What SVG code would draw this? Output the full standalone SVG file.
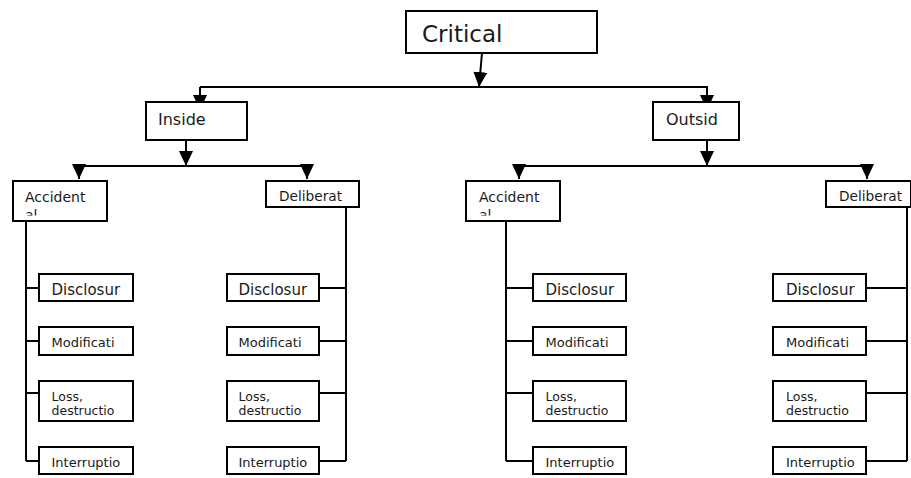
<svg xmlns="http://www.w3.org/2000/svg" width="911" height="478" viewBox="0 0 911 478">
  <style>
    .box { fill: #fff; stroke: #000; stroke-width: 2; }
    .ln { fill: none; stroke: #000; stroke-width: 2; }
    .arr { marker-end: url(#head); }
    text { font-family: "DejaVu Sans", Verdana, sans-serif; fill: #1a1a1a; }
  </style>
  <defs>
    <marker id="head" viewBox="0 0 15 14" refX="15" refY="7" markerWidth="15" markerHeight="14" markerUnits="userSpaceOnUse" orient="auto">
      <path d="M0,0 L15,7 L0,14 z" fill="#000"/>
    </marker>
    <clipPath id="clipAccL"><rect x="13" y="181" width="94" height="34.5"/></clipPath>
    <clipPath id="clipAccR"><rect x="466" y="181" width="94" height="34.5"/></clipPath>
    <clipPath id="clipLoss"><rect x="0" y="381" width="911" height="34.5"/></clipPath>
  </defs>

  <!-- connectors -->
  <g id="connectors">
    <line class="ln arr" x1="482" y1="53" x2="479" y2="87"/>
    <line class="ln" x1="200" y1="87" x2="708" y2="87"/>
    <line class="ln arr" x1="200" y1="87" x2="200" y2="110"/>
    <line class="ln arr" x1="707" y1="87" x2="707" y2="110"/>

    <line class="ln arr" x1="186" y1="140" x2="186" y2="166"/>
    <line class="ln" x1="78" y1="166" x2="307" y2="166"/>
    <line class="ln arr" x1="79" y1="166" x2="79" y2="179"/>
    <line class="ln arr" x1="307" y1="166" x2="307" y2="179"/>

    <line class="ln arr" x1="707" y1="140" x2="707" y2="166"/>
    <line class="ln" x1="519" y1="166" x2="867" y2="166"/>
    <line class="ln arr" x1="519" y1="166" x2="519" y2="179"/>
    <line class="ln arr" x1="867" y1="166" x2="867" y2="179"/>

    <!-- branch spines with leaf ticks -->
    <path class="ln" d="M26,221 V461 M26,288 H39 M26,341 H39 M26,393 H39 M26,461 H39"/>
    <path class="ln" d="M346,207 V461 M346,288 H319 M346,341 H319 M346,393 H319 M346,461 H319"/>
    <path class="ln" d="M506,221 V461 M506,288 H533 M506,341 H533 M506,393 H533 M506,461 H533"/>
    <path class="ln" d="M907,207 V461 M907,288 H866 M907,341 H866 M907,393 H866 M907,461 H866"/>
  </g>

  <!-- top level -->
  <g id="critical">
    <rect class="box" x="406" y="11" width="191" height="42"/>
    <text x="422" y="42" font-size="23">Critical</text>
  </g>
  <g id="inside">
    <rect class="box" x="146" y="102" width="101" height="38"/>
    <text x="158" y="125" font-size="16">Inside</text>
  </g>
  <g id="outside">
    <rect class="box" x="653" y="102" width="86" height="38"/>
    <text x="666" y="125" font-size="16">Outsid</text>
  </g>

  <!-- second level -->
  <g id="accidental-in">
    <rect class="box" x="13" y="181" width="94" height="40"/>
    <g clip-path="url(#clipAccL)">
      <text x="25" y="202" font-size="14">Accident</text>
      <text x="25" y="220" font-size="14">al</text>
    </g>
  </g>
  <g id="deliberate-in">
    <rect class="box" x="266" y="181" width="93" height="26"/>
    <text x="279" y="201" font-size="13.7">Deliberat</text>
  </g>
  <g id="accidental-out">
    <rect class="box" x="466" y="181" width="94" height="40"/>
    <g clip-path="url(#clipAccR)">
      <text x="479" y="202" font-size="14">Accident</text>
      <text x="479" y="220" font-size="14">al</text>
    </g>
  </g>
  <g id="deliberate-out">
    <rect class="box" x="826" y="181" width="85" height="26"/>
    <text x="839" y="201" font-size="13.7">Deliberat</text>
  </g>

  <!-- leaves: inside / accidental -->
  <g id="in-acc-disclosure">
    <rect class="box" x="39" y="274" width="94" height="27"/>
    <text x="51.5" y="295" font-size="15">Disclosur</text>
  </g>
  <g id="in-acc-modification">
    <rect class="box" x="39" y="327" width="94" height="28"/>
    <text x="51.5" y="347" font-size="13">Modificati</text>
  </g>
  <g id="in-acc-loss">
    <rect class="box" x="39" y="381" width="94" height="40"/>
    <g clip-path="url(#clipLoss)">
      <text x="51.5" y="401" font-size="12.5">Loss,</text>
      <text x="51.5" y="414.5" font-size="12.5">destructio</text>
    </g>
  </g>
  <g id="in-acc-interruption">
    <rect class="box" x="39" y="447" width="94" height="27"/>
    <text x="51.5" y="467" font-size="13">Interruptio</text>
  </g>

  <!-- leaves: inside / deliberate -->
  <g id="in-del-disclosure">
    <rect class="box" x="227" y="274" width="92" height="27"/>
    <text x="238.5" y="295" font-size="15">Disclosur</text>
  </g>
  <g id="in-del-modification">
    <rect class="box" x="227" y="327" width="92" height="28"/>
    <text x="238.5" y="347" font-size="13">Modificati</text>
  </g>
  <g id="in-del-loss">
    <rect class="box" x="227" y="381" width="92" height="40"/>
    <g clip-path="url(#clipLoss)">
      <text x="238.5" y="401" font-size="12.5">Loss,</text>
      <text x="238.5" y="414.5" font-size="12.5">destructio</text>
    </g>
  </g>
  <g id="in-del-interruption">
    <rect class="box" x="227" y="447" width="92" height="27"/>
    <text x="238.5" y="467" font-size="13">Interruptio</text>
  </g>

  <!-- leaves: outside / accidental -->
  <g id="out-acc-disclosure">
    <rect class="box" x="533" y="274" width="93" height="27"/>
    <text x="545.5" y="295" font-size="15">Disclosur</text>
  </g>
  <g id="out-acc-modification">
    <rect class="box" x="533" y="327" width="93" height="28"/>
    <text x="545.5" y="347" font-size="13">Modificati</text>
  </g>
  <g id="out-acc-loss">
    <rect class="box" x="533" y="381" width="93" height="40"/>
    <g clip-path="url(#clipLoss)">
      <text x="545.5" y="401" font-size="12.5">Loss,</text>
      <text x="545.5" y="414.5" font-size="12.5">destructio</text>
    </g>
  </g>
  <g id="out-acc-interruption">
    <rect class="box" x="533" y="447" width="93" height="27"/>
    <text x="545.5" y="467" font-size="13">Interruptio</text>
  </g>

  <!-- leaves: outside / deliberate -->
  <g id="out-del-disclosure">
    <rect class="box" x="773" y="274" width="93" height="27"/>
    <text x="786" y="295" font-size="15">Disclosur</text>
  </g>
  <g id="out-del-modification">
    <rect class="box" x="773" y="327" width="93" height="28"/>
    <text x="786" y="347" font-size="13">Modificati</text>
  </g>
  <g id="out-del-loss">
    <rect class="box" x="773" y="381" width="93" height="40"/>
    <g clip-path="url(#clipLoss)">
      <text x="786" y="401" font-size="12.5">Loss,</text>
      <text x="786" y="414.5" font-size="12.5">destructio</text>
    </g>
  </g>
  <g id="out-del-interruption">
    <rect class="box" x="773" y="447" width="93" height="27"/>
    <text x="786" y="467" font-size="13">Interruptio</text>
  </g>
</svg>
